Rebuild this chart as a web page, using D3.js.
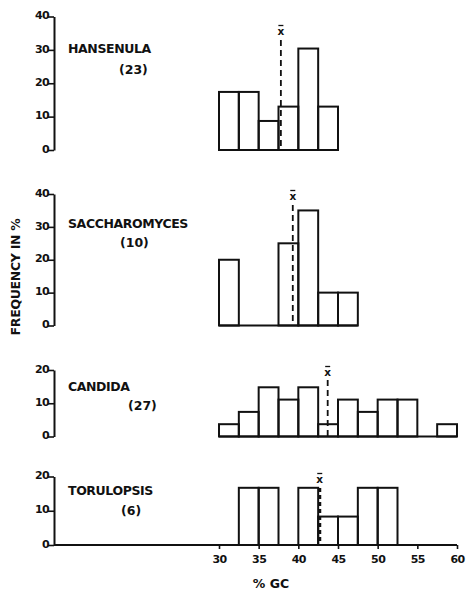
<!DOCTYPE html>
<html>
<head>
<meta charset="utf-8">
<script src="https://cdn.jsdelivr.net/npm/d3@7"></script>
<style>
  html, body { margin: 0; padding: 0; background: #fff; }
  svg { display: block; }
  text { font-family: "DejaVu Sans", "Liberation Sans", sans-serif; font-weight: bold; fill: #111; }
</style>
</head>
<body>
<svg id="chart" width="466" height="590"></svg>
<script>
// GC-content histograms for four yeast genera (bin width 2.5 % GC, starting at 30)
const binWidth = 2.5;
const genera = ["HANSENULA", "SACCHAROMYCES", "CANDIDA", "TORULOPSIS"];
const strainCounts = ["(23)", "(10)", "(27)", "(6)"];
const binStarts = [
  [30, 32.5, 35, 37.5, 40, 42.5],
  [30, 32.5, 35, 37.5, 40, 42.5, 45],
  [30, 32.5, 35, 37.5, 40, 42.5, 45, 47.5, 50, 52.5, 55, 57.5],
  [32.5, 35, 37.5, 40, 42.5, 45, 47.5, 50]
];
const hansenulaFreq     = [17.4, 17.4, 8.7, 13.0, 30.4, 13.0];
const saccharomycesFreq = [20, 0, 0, 25, 35, 10, 10];
const candidaFreq       = [3.7, 7.4, 14.8, 11.1, 14.8, 3.7, 11.1, 7.4, 11.1, 11.1, 0, 3.7];
const torulopsisFreq    = [16.7, 16.7, 0, 16.7, 8.3, 8.3, 16.7, 16.7];
const meanGC = [37.8, 39.3, 43.7, 42.7];
const yTicks = [[0, 10, 20, 30, 40], [0, 10, 20, 30, 40], [0, 10, 20], [0, 10, 20]];
const xTicks = [30, 35, 40, 45, 50, 55, 60];

const freqs = [hansenulaFreq, saccharomycesFreq, candidaFreq, torulopsisFreq];

// panel frames: baseline and top-tick pixel rows
const frames = [
  { base: 150,   top: 16.5, meanTop: 40,  labelY: 35,  nameY: 53,  countY: 74,  countX: 119 },
  { base: 325.5, top: 194,  meanTop: 205, labelY: 200, nameY: 228, countY: 247, countX: 120 },
  { base: 436.5, top: 370,  meanTop: 380, labelY: 376, nameY: 391, countY: 410, countX: 128 },
  { base: 545,   top: 476.5,meanTop: 488, labelY: 483, nameY: 495, countY: 515, countX: 121 }
];

const axisX = 54;
const svg = d3.select("#chart");
svg.append("rect").attr("width", 466).attr("height", 590).attr("fill", "#fff");

const x = d3.scaleLinear().domain([30, 60]).range([219, 457]);

genera.forEach((name, i) => {
  const f = frames[i];
  const maxTick = d3.max(yTicks[i]);
  const y = d3.scaleLinear().domain([0, maxTick]).range([f.base, f.top]);
  const g = svg.append("g");

  // vertical frequency axis
  const yAxis = d3.axisLeft(y).tickValues(yTicks[i]).tickSize(6).tickSizeOuter(0).tickPadding(0);
  const ya = g.append("g").attr("transform", `translate(${axisX},0)`).call(yAxis);
  ya.select(".domain").attr("stroke", "#111").attr("stroke-width", 2);
  ya.selectAll(".tick line").attr("stroke", "#111").attr("stroke-width", 1.6);
  ya.selectAll(".tick text")
    .attr("dy", "0.2em").attr("x", -5)
    .style("font-size", "11px").style("letter-spacing", "-0.6px");

  // histogram baseline across the binned range
  const starts = binStarts[i];
  const lo = d3.min(starts), hi = d3.max(starts) + binWidth;
  if (i < 3) {
    g.append("line")
      .attr("x1", x(lo)).attr("x2", x(hi))
      .attr("y1", y(0)).attr("y2", y(0))
      .attr("stroke", "#111").attr("stroke-width", 2);
  }

  // bars
  const bins = starts.map((s, k) => ({ s, v: freqs[i][k] })).filter(d => d.v > 0);
  g.selectAll("rect.bar").data(bins).join("rect")
    .attr("class", "bar")
    .attr("x", d => x(d.s))
    .attr("width", d => x(d.s + binWidth) - x(d.s))
    .attr("y", d => y(d.v))
    .attr("height", d => y(0) - y(d.v))
    .attr("fill", "none").attr("stroke", "#111").attr("stroke-width", 2);

  // mean GC marker
  const mx = x(meanGC[i]);
  g.append("line")
    .attr("x1", mx).attr("x2", mx)
    .attr("y1", f.meanTop).attr("y2", y(0))
    .attr("stroke", "#111")
    .attr("stroke-width", i === 3 ? 3 : 1.8)
    .attr("stroke-dasharray", i === 3 ? "4,3" : "6,4");
  g.append("text").attr("x", mx).attr("y", f.labelY)
    .attr("text-anchor", "middle").style("font-size", "10.5px").text("x");
  g.append("line")
    .attr("x1", mx - 2.5).attr("x2", mx + 2.5)
    .attr("y1", f.labelY - 9.5).attr("y2", f.labelY - 9.5)
    .attr("stroke", "#111").attr("stroke-width", 1.3);

  // genus name and number of strains
  g.append("text").attr("x", 68).attr("y", f.nameY)
    .style("font-size", "12.5px").style("letter-spacing", "-0.4px").text(name);
  g.append("text").attr("x", f.countX).attr("y", f.countY)
    .style("font-size", "12.5px").text(strainCounts[i]);
});

// shared %GC axis along the bottom panel
const xAxis = d3.axisBottom(x).tickValues(xTicks).tickSize(4).tickSizeOuter(0).tickPadding(6);
const xa = svg.append("g").attr("transform", `translate(0,${frames[3].base})`).call(xAxis);
xa.select(".domain").remove();
xa.selectAll(".tick line").attr("stroke", "#111").attr("stroke-width", 1.6);
xa.selectAll(".tick text").style("font-size", "11px").style("letter-spacing", "-0.6px");
svg.append("line")
  .attr("x1", axisX).attr("x2", x(60))
  .attr("y1", frames[3].base).attr("y2", frames[3].base)
  .attr("stroke", "#111").attr("stroke-width", 2);

svg.append("text").attr("x", 271).attr("y", 588)
  .attr("text-anchor", "middle").style("font-size", "12.5px").text("% GC");

svg.append("text")
  .attr("transform", "translate(20,277) rotate(-90)")
  .attr("text-anchor", "middle").style("font-size", "12.5px").style("letter-spacing", "-0.3px")
  .text("FREQUENCY IN %");
</script>
</body>
</html>
